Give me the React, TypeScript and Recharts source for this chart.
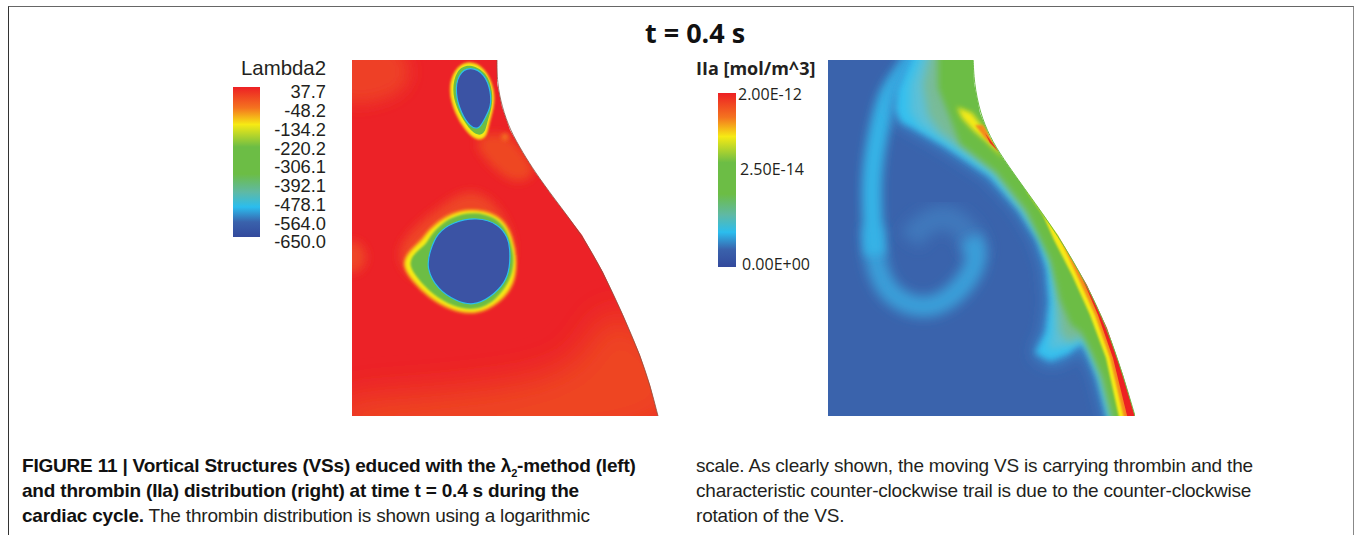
import { Bar, BarChart, Scatter, ScatterChart, XAxis, YAxis } from 'recharts';

type Pt = [number, number];

// Contours, in field units (top left of each panel is 0,0)
const wallLeft: Pt[] = [[145, -4], [145, 23], [150, 47], [158, 70], [171, 93], [183, 112], [201, 137], [230, 175], [251, 212], [271, 255], [288, 295], [298, 325], [306, 356]];
const wallRight: Pt[] = [[145, -4], [146, 23], [152, 53], [162, 77], [174, 97], [199, 132], [230, 175], [259, 225], [279, 268], [295, 315], [307, 356]];

const hazeCorner: Pt[] = [[-20, -20], [50, -20], [62, 18], [45, 36], [18, 44], [-20, 46]];
const hazeWallBand: Pt[] = [[121, 77], [155, 70], [175, 97], [186, 114], [165, 125], [145, 112], [128, 93]];
const hazeSpot: Pt[] = [[149, 73], [157, 73], [157, 81], [149, 81]];
const hazeVortex: Pt[] = [[115, 128], [140, 138], [158, 165], [165, 200], [140, 240], [60, 225], [42, 195], [58, 170], [90, 145]];
const hazeLeftEdge: Pt[] = [[-10, 178], [10, 182], [16, 197], [10, 212], [-10, 216]];
const hazeBottom: Pt[] = [[-30, 390], [340, 390], [330, 300], [285, 262], [262, 250], [245, 262], [232, 292], [200, 316], [120, 328], [50, 334], [-30, 338]];

const topYellow: Pt[] = [[116, 0], [133, 7], [143, 30], [142, 48], [137, 63], [135, 78], [124, 81], [113, 70], [103, 54], [96, 30], [102, 9]];
const topGreen: Pt[] = [[117, 3], [135, 12], [141, 32], [140, 48], [135, 62], [133, 74], [124, 76], [114, 65], [104, 47], [100, 30], [104, 10]];
const topBlue: Pt[] = [[118, 6], [133, 14], [139, 32], [139, 47], [133, 58], [127, 70], [118, 67], [109, 53], [103, 33], [106, 14]];

const lowerYellow: Pt[] = [[75, 171], [98, 152], [125, 148], [151, 157], [161, 178], [165, 200], [163, 224], [148, 243], [125, 255], [100, 251], [77, 238], [60, 221], [49, 204], [58, 190], [71, 179]];
const lowerGreen: Pt[] = [[78, 175], [98, 156], [125, 151], [149, 160], [158, 178], [162, 197], [161, 210], [156, 224], [144, 240], [125, 251], [101, 247], [80, 234], [66, 219], [56, 205], [62, 193], [75, 184]];
const lowerBlue: Pt[] = [[85, 173], [101, 162], [125, 157], [147, 164], [156, 178], [158, 188], [158, 208], [153, 223], [139, 237], [121, 246], [104, 241], [86, 230], [74, 208], [78, 191]];

const trailOuter: Pt[] = [[89, -6], [72, 18], [59, 40], [49, 80], [44, 123], [45, 167], [47, 195]];
const trailLoop: Pt[] = [[45, 167], [47, 195], [59, 228], [89, 246], [119, 239], [141, 216], [148, 195], [142, 178]];
const trailCurl: Pt[] = [[148, 195], [141, 175], [119, 158], [95, 166], [82, 180]];
const fanGlow: Pt[] = [[86, -10], [66, 30], [64, 50], [70, 62], [85, 70], [115, 87], [160, 117], [190, 150], [208, 180], [217, 208], [220, 242], [216, 272], [205, 294], [222, 305], [240, 298], [254, 285], [258, 293], [268, 317], [284, 380], [330, 380], [330, -10]];
const fanCyan: Pt[] = [[88, -10], [70, 30], [68, 50], [73, 62], [87, 69], [117, 86], [162, 116], [192, 150], [210, 180], [219, 208], [222, 242], [218, 272], [207, 293], [222, 301], [240, 294], [254, 282], [260, 293], [270, 317], [286, 380], [330, 380], [330, -10]];
const fanPale: Pt[] = [[95, -10], [82, 25], [82, 52], [92, 66], [122, 85], [164, 114], [194, 150], [213, 180], [223, 208], [226, 240], [224, 272], [220, 290], [240, 286], [256, 280], [263, 295], [272, 317], [288, 380], [330, 380], [330, -10]];
const fanTeal: Pt[] = [[103, -10], [95, 25], [100, 55], [112, 72], [140, 92], [168, 113], [196, 150], [216, 180], [226, 208], [229, 240], [232, 272], [240, 282], [256, 276], [265, 295], [273, 317], [289, 380], [330, 380], [330, -10]];
const bodyGreen: Pt[] = [[110, -10], [110, 28], [122, 58], [132, 84], [168, 112], [198, 150], [222, 200], [232, 240], [243, 265], [253, 272], [262, 290], [274, 317], [290, 380], [330, 380], [330, -10]];
const hotYellow: Pt[] = [[129, 47], [144, 53], [162, 77], [176, 99], [159, 82], [145, 70], [134, 58]];
const hotOrange: Pt[] = [[147, 65], [155, 65], [171, 92], [157, 78]];
const hotRed: Pt[] = [[157, 73], [171, 92], [162, 83]];
const stripYellow: Pt[] = [[198, 130], [215, 155], [226, 180], [244, 215], [262, 255], [278, 298], [296, 380], [330, 380], [330, 200], [240, 140]];
const stripOrange: Pt[] = [[215, 150], [229, 172], [248, 213], [267, 255], [282, 298], [301, 380], [330, 380], [330, 200], [240, 140]];
const stripRed: Pt[] = [[238, 185], [252, 213], [270, 255], [285, 298], [305, 380], [330, 380], [330, 200], [260, 170]];

const lambdaTicks = [37.7, -48.2, -134.2, -220.2, -306.1, -392.1, -478.1, -564.0, -650.0];
const thrombinPositions = [0.017, 0.563, 0.994];
const thrombinLabels = ['0.00E+00', '2.50E-14', '2.00E-12'];
const thrombinLabelX = [24, 22, 20];

const colorStops: [string, string][] = [
  ['0%', '#ed2024'], ['14%', '#f4731f'], ['25%', '#f6ea14'], ['40%', '#6cbd45'], ['58%', '#6cbd45'],
  ['70%', '#5fb9a4'], ['80%', '#2bbdee'], ['90%', '#3a62ac'], ['100%', '#33499c'],
];

type Layer = { points: Pt[]; fill?: string; stroke?: string; width?: number; blur?: number; curve?: string; opacity?: number };

const leftLayers: Layer[] = [
  { points: hazeCorner, fill: '#ee4025', blur: 8 },
  { points: hazeWallBand, fill: '#ee4624', blur: 5 },
  { points: hazeSpot, fill: '#f37021', blur: 2 },
  { points: hazeVortex, fill: '#ee4425', blur: 5 },
  { points: hazeLeftEdge, fill: '#ee4425', blur: 5 },
  { points: hazeBottom, fill: '#ee4524', blur: 16 },
  { points: topYellow, fill: '#f6ea14', stroke: '#f58a1f', width: 1.2, blur: 1 },
  { points: topGreen, fill: '#6cbd45', blur: 0.6 },
  { points: topBlue, fill: '#3a53a4', stroke: '#2bbdee', width: 1.2, blur: 0.6 },
  { points: lowerYellow, fill: '#f6ea14', stroke: '#f58a1f', width: 2, blur: 1.5 },
  { points: lowerGreen, fill: '#6cbd45', blur: 0.8 },
  { points: lowerBlue, fill: '#3a53a4', stroke: '#2bbdee', width: 1.2, blur: 0.6 },
  { points: wallLeft.concat([[340, 356], [340, -4]]), fill: '#ffffff', curve: 'linearClosed' },
  { points: wallLeft, stroke: '#8b5040', width: 0.8, curve: 'basis' },
];

const rightLayers: Layer[] = [
  { points: trailCurl, stroke: '#3f78bc', width: 24, blur: 7, curve: 'natural' },
  { points: trailLoop, stroke: '#3a9fd9', width: 21, blur: 6, curve: 'natural' },
  { points: trailOuter, stroke: '#36b2e6', width: 20, blur: 5, curve: 'natural' },
  { points: fanGlow, fill: '#3b92d3', blur: 8, curve: 'linearClosed' },
  { points: fanCyan, fill: '#35c0ee', blur: 3, curve: 'linearClosed' },
  { points: fanPale, fill: '#5cc0d8', blur: 4, curve: 'linearClosed' },
  { points: fanTeal, fill: '#78bb98', blur: 4, curve: 'linearClosed' },
  { points: bodyGreen, fill: '#6cbd45', blur: 3, curve: 'linearClosed' },
  { points: hotYellow, fill: '#f6ea14', blur: 2.5, curve: 'linearClosed' },
  { points: hotOrange, fill: '#f58a1f', blur: 1, curve: 'linearClosed' },
  { points: hotRed, fill: '#e8351f', blur: 0.6, curve: 'linearClosed' },
  { points: stripYellow, fill: '#f6ea14', blur: 1.2, curve: 'linearClosed' },
  { points: stripOrange, fill: '#f58a1f', blur: 0.8, curve: 'linearClosed' },
  { points: stripRed, fill: '#ed2024', blur: 0.7, curve: 'linearClosed' },
  { points: wallRight.concat([[340, 356], [340, -4]]), fill: '#ffffff', curve: 'linearClosed' },
  { points: wallRight, stroke: '#6cbd45', width: 1, curve: 'basis' },
];

const blurLevels = [0.6, 0.7, 0.8, 1, 1.2, 1.5, 2, 2.5, 3, 4, 5, 6, 7, 8, 16];
const blurId = (b: number) => `blur-${String(b).replace('.', '_')}`;

const Field = ({ layers, left, background }: { layers: Layer[]; left: number; background: string }) => (
  <div style={{ position: 'absolute', left, top: 60, background }}>
    <ScatterChart width={307} height={356} margin={{ top: 0, right: 0, bottom: 0, left: 0 }}>
      <XAxis type="number" dataKey="x" domain={[0, 307]} allowDataOverflow hide />
      <YAxis type="number" dataKey="y" domain={[0, 356]} allowDataOverflow reversed hide />
      {layers.map((layer, i) => (
        <Scatter
          key={i}
          data={layer.points.map(([x, y]) => ({ x, y }))}
          isAnimationActive={false}
          shape={() => <g />}
          lineJointType={(layer.curve ?? 'basisClosed') as any}
          line={{
            fill: layer.fill ?? 'none',
            stroke: layer.stroke ?? 'none',
            strokeWidth: layer.width ?? 0,
            opacity: layer.opacity ?? 1,
            filter: layer.blur ? `url(#${blurId(layer.blur)})` : undefined,
          } as any}
        />
      ))}
    </ScatterChart>
  </div>
);

const LambdaTick = ({ payload, y }: any) => (
  <text x={93} y={y + 5} dy="0.35em" textAnchor="end" fontFamily="Liberation Sans" fontSize={18.3} fill="#231f20">
    {payload.value.toFixed(1)}
  </text>
);

const LambdaBar = () => (
  <div style={{ position: 'absolute', left: 233, top: 77 }}>
    <BarChart width={100} height={190} data={[{ name: 'Lambda2', span: [-650, 37.7] }]} barCategoryGap={0} margin={{ top: 10, right: 0, bottom: 30, left: 0 }}>
      <defs>
        <linearGradient id="legendColors" x1="0" y1="0" x2="0" y2="1">
          {colorStops.map(([offset, color]) => <stop key={offset} offset={offset} stopColor={color} />)}
        </linearGradient>
      </defs>
      <XAxis dataKey="name" hide />
      <YAxis orientation="right" width={73} domain={[-650, 37.7]} ticks={lambdaTicks} interval={0} axisLine={false} tickLine={false} tick={<LambdaTick />} />
      <Bar dataKey="span" fill="url(#legendColors)" isAnimationActive={false} />
    </BarChart>
  </div>
);

const ThrombinTick = ({ payload, y }: any) => {
  const index = thrombinPositions.indexOf(payload.value);
  return (
    <text x={thrombinLabelX[index]} y={y} dy="0.35em" fontFamily="Open Sans" fontSize={16} fill="#231f20">
      {thrombinLabels[index]}
    </text>
  );
};

const ThrombinBar = () => (
  <div style={{ position: 'absolute', left: 718, top: 83 }}>
    <BarChart width={100} height={194} data={[{ name: 'IIa', span: [0, 1] }]} barCategoryGap={0} margin={{ top: 10, right: 0, bottom: 10, left: 0 }}>
      <XAxis dataKey="name" hide />
      <YAxis orientation="right" width={82} domain={[0, 1]} ticks={thrombinPositions} interval={0} axisLine={false} tickLine={false} tick={<ThrombinTick />} />
      <Bar dataKey="span" fill="url(#legendColors)" isAnimationActive={false} />
    </BarChart>
  </div>
);

const textAt = (left: number, top: number, style: React.CSSProperties): React.CSSProperties => ({
  position: 'absolute', left, top, whiteSpace: 'nowrap', color: '#231f20', ...style,
});

const caption: React.CSSProperties = { fontFamily: 'Liberation Sans', fontSize: 19, lineHeight: '20px', letterSpacing: -0.2 };
const bold: React.CSSProperties = { ...caption, fontWeight: 'bold', color: '#111' };

export default function App() {
  return (
    <div style={{ position: 'absolute', left: 0, top: 0, width: 1354, height: 535, overflow: 'hidden', background: '#fff' }}>
      <svg width={0} height={0} style={{ position: 'absolute' }}>
        <defs>
          {blurLevels.map((b) => (
            <filter key={b} id={blurId(b)} x="-40%" y="-40%" width="180%" height="180%">
              <feGaussianBlur stdDeviation={b} />
            </filter>
          ))}
        </defs>
      </svg>

      <div style={{ position: 'absolute', left: 8, top: 6, width: 1346, height: 540, borderLeft: '1.5px solid #333', borderTop: '1.5px solid #666', borderRight: '1px solid #888', boxSizing: 'border-box' }} />

      <div style={textAt(645, 14, { fontFamily: 'Open Sans', fontWeight: 'bold', fontSize: 27, lineHeight: '38px', color: '#111' })}>t = 0.4 s</div>
      <div style={textAt(241, 56, { fontFamily: 'Liberation Sans', fontSize: 20.4, lineHeight: '24px' })}>Lambda2</div>
      <div style={textAt(696, 56, { fontFamily: 'Open Sans', fontWeight: 'bold', fontSize: 18, lineHeight: '24px' })}>IIa [mol/m^3]</div>

      <Field layers={leftLayers} left={352} background="#ec2227" />
      <Field layers={rightLayers} left={828} background="#3a63ac" />
      <LambdaBar />
      <ThrombinBar />

      <div style={textAt(22, 456, bold)}>FIGURE 11 | Vortical Structures (VSs) educed with the λ<sub style={{ fontSize: 11, lineHeight: 0 }}>2</sub>-method (left)</div>
      <div style={textAt(22, 481, bold)}>and thrombin (IIa) distribution (right) at time t = 0.4 s during the</div>
      <div style={textAt(22, 506, caption)}><b style={{ color: '#111' }}>cardiac cycle.</b> The thrombin distribution is shown using a logarithmic</div>
      <div style={textAt(696, 456, caption)}>scale. As clearly shown, the moving VS is carrying thrombin and the</div>
      <div style={textAt(696, 481, caption)}>characteristic counter-clockwise trail is due to the counter-clockwise</div>
      <div style={textAt(696, 506, caption)}>rotation of the VS.</div>
    </div>
  );
}
